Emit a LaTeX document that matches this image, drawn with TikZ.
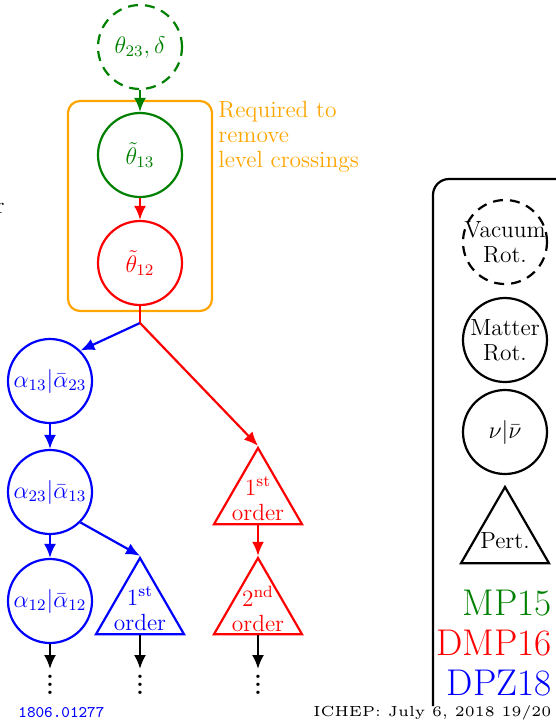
\documentclass[tikz,border=0pt]{standalone}
\usetikzlibrary{arrows.meta,shapes.geometric}
\definecolor{dgreen}{RGB}{0,128,0}
\definecolor{orng}{RGB}{255,165,0}
\begin{document}
\begin{tikzpicture}[x=0.5pt,y=-0.5pt,
  every node/.style={font=\fontsize{11.7}{12.5}\selectfont},
  circ/.style={circle,draw,line width=1.1pt,minimum size=42pt,inner sep=0pt},
  dashcirc/.style={dash pattern=on 5pt off 3.5pt},
  tri/.style={regular polygon,regular polygon sides=3,draw,line width=1.1pt,minimum size=50.8pt,inner sep=0pt},
  arr/.style={line width=1.1pt,-{Latex[length=7pt,width=6pt]}},
  lbl/.style={align=center,inner sep=0pt},
  big/.style={anchor=base east,inner sep=0pt,font=\fontsize{18.6}{22}\selectfont},
  dots/.style={anchor=base,inner sep=0pt,font=\fontsize{11.7}{12.5}\selectfont\bfseries}
]
\useasboundingbox (0,0) rectangle (556,720);

% cut-off letter at the left edge
\node[anchor=base east,inner sep=0pt] (cut) at (5,213) {r};

% top chain
\node[circ,dashcirc,dgreen] (t23) at (140,47) {$\theta_{23},\delta$};
\node[circ,dgreen] (t13) at (140,155) {$\tilde{\theta}_{13}$};
\node[circ,red] (t12) at (140,263) {$\tilde{\theta}_{12}$};
\draw[orng,line width=1.1pt,rounded corners=6pt] (68,101) rectangle (212,311);
\node[orng,anchor=north west,align=left,inner sep=0pt] (req) at (218,101) {Required to\\remove\\level crossings};

\draw[arr,dgreen] (t23) -- (t13);
\draw[arr,red] (t13) -- (t12);
\coordinate (split) at (140,323);
\draw[red,line width=1.1pt] (t12) -- (split);

% blue branch
\node[circ,blue] (a13) at (50,381) {$\alpha_{13}|\bar{\alpha}_{23}$};
\node[circ,blue] (a23) at (50,492) {$\alpha_{23}|\bar{\alpha}_{13}$};
\node[circ,blue] (a12) at (50,601) {$\alpha_{12}|\bar{\alpha}_{12}$};
\node[tri,blue] (b1) at (140,608.8) {};
\node[lbl,blue] (b1t) at (b1.center) {1\textsuperscript{st}\\order};

% red branch
\node[tri,red] (r1) at (258,498.8) {};
\node[lbl,red] (r1t) at (r1.center) {1\textsuperscript{st}\\order};
\node[tri,red] (r2) at (258,608.8) {};
\node[lbl,red] (r2t) at (r2.center) {2\textsuperscript{nd}\\order};

\draw[arr,blue] (split) -- (a13.north east);
\draw[arr,red] (split) -- (r1.corner 1);
\draw[arr,blue] (a13) -- (a23);
\draw[arr,blue] (a23) -- (a12);
\draw[arr,blue] (a23.south east) -- (b1.corner 1);
\draw[arr,red] (r1.south) -- (r2.corner 1);

% continuation arrows and dots
\coordinate (e1) at (50,669);
\coordinate (e2) at (140,669);
\coordinate (e3) at (258,669);
\draw[arr] (a12) -- (e1);
\draw[arr] (b1.south) -- (e2);
\draw[arr] (r2.south) -- (e3);
\node[dots] (d1) at (50,694) {$\vdots$};
\node[dots] (d2) at (140,694) {$\vdots$};
\node[dots] (d3) at (258,694) {$\vdots$};

% legend
\draw[line width=1.1pt,rounded corners=8pt] (433,706) -- (433,179) -- (580,179);
\node[circ,dashcirc] (lv) at (505,242) {};
\node[lbl] (lvt) at (lv.center) {Vacuum\\Rot.};
\node[circ] (lm) at (505,340) {};
\node[lbl] (lmt) at (lm.center) {Matter\\Rot.};
\node[circ] (ln) at (505,432) {$\nu|\bar{\nu}$};
\node[tri] (lp) at (505,537.8) {};
\node[lbl] (lpt) at (505,541) {Pert.};
\node[big,dgreen] (mp) at (552,615) {MP15};
\node[big,red] (dmp) at (552,655) {DMP16};
\node[big,blue] (dpz) at (552,695) {DPZ18};

% footer
\node[anchor=base west,inner sep=0pt,blue,font=\fontsize{8.1}{9}\selectfont\ttfamily] (arx) at (18,717) {1806.01277};
\node[anchor=base west,inner sep=0pt] (foot) at (313,716) {\scalebox{1.46}{\fontsize{5}{6}\selectfont ICHEP: July 6, 2018 19/20}};
\end{tikzpicture}
\end{document}
